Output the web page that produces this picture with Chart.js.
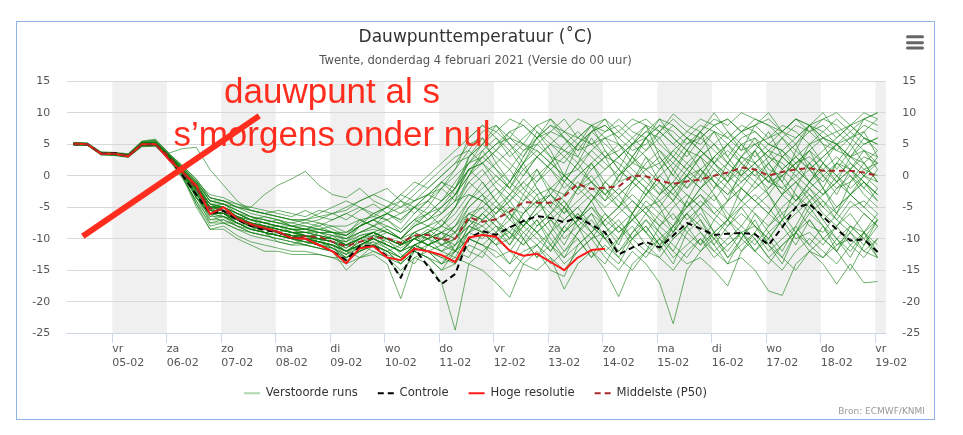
<!DOCTYPE html>
<html>
<head>
<meta charset="utf-8">
<script src="https://cdn.jsdelivr.net/npm/chart.js@4"></script>
<style>
  html, body { margin: 0; padding: 0; background: #fff; }
  #box { position: absolute; left: 16px; top: 21px; width: 917px; height: 397px; border: 1px solid #8fb4e3; }
  canvas { display: block; }
</style>
</head>
<body>
<div id="box"><canvas id="chart" width="917" height="397"></canvas></div>
<script>
const FONT = '"DejaVu Sans", Verdana, sans-serif';

// time axis in hours from 05-02 00:00, model steps every 6 hours from 04-02 07:00
const START_HOUR = -17;
const STEP_HOURS = 6;

const dayNames = ['vr', 'za', 'zo', 'ma', 'di', 'wo', 'do', 'vr', 'za', 'zo', 'ma', 'di', 'wo', 'do', 'vr'];
const dayDates = ['05-02', '06-02', '07-02', '08-02', '09-02', '10-02', '11-02', '12-02',
                  '13-02', '14-02', '15-02', '16-02', '17-02', '18-02', '19-02'];
const shadedDays = [0, 2, 4, 6, 8, 10, 12, 14];

const hogeResolutie = [5.1, 5.0, 3.5, 3.5, 3.1, 5.0, 5.0, 2.5, 0.6, -1.6,
  -6.1, -5.0, -6.8, -7.7, -8.3, -8.9, -9.9, -10.0, -11.0, -12.0,
  -13.9, -11.5, -11.2, -13.0, -13.4, -11.6, -12.0, -12.6, -13.7, -9.8,
  -9.4, -9.7, -11.9, -12.7, -12.4, -13.7, -15.0, -13.0, -11.8, -11.6];

const controle = [5.0, 5.0, 3.5, 3.6, 3.1, 5.0, 5.0, 2.8, 0.0, -3.0,
  -6.0, -5.6, -7.0, -8.0, -8.6, -9.0, -9.9, -10.0, -11.0, -12.0,
  -13.4, -11.2, -11.1, -12.8, -16.2, -11.5, -14.4, -17.2, -15.6, -9.9,
  -8.8, -9.4, -8.2, -7.2, -6.4, -6.7, -7.4, -6.6, -7.8, -9.0,
  -12.5, -11.4, -10.5, -11.4, -9.5, -7.5, -8.4, -9.4, -9.2, -9.1,
  -9.3, -11.0, -8.2, -5.0, -4.5, -6.5, -8.5, -10.3, -10.1, -12.1];

const middelste = [5.0, 5.0, 3.5, 3.5, 3.2, 5.0, 5.0, 3.0, 0.5, -2.0,
  -5.2, -5.5, -6.8, -7.8, -8.4, -8.9, -9.9, -9.6, -9.7, -10.5,
  -11.2, -10.5, -9.8, -9.9, -10.7, -9.5, -9.4, -10.2, -10.0, -6.6,
  -7.3, -6.9, -5.7, -4.2, -4.3, -4.3, -3.3, -1.3, -2.1, -1.9,
  -1.7, 0.0, -0.1, -0.8, -1.3, -0.9, -0.6, 0.0, 0.5, 1.3,
  1.0, 0.0, 0.6, 1.0, 1.2, 0.8, 0.8, 0.8, 0.5, 0.0];

const verstoordeRuns = [
  [5.2,5.1,3.4,3.6,3.0,5.3,5.2,2.8,0.2,-2.5, -6,-6,-7.5,-8.5,-9,-9.5,-10,-10.5,-11,-11.5, -13,-12,-11,-12,-14,-11,-10,-8,-5,0, 3,5,6,4,5,7,6,4,5,6, 3,5,7,6,8,6,5,7,6,4, 5,6,8,7,5,6,7,8,6,5],
  [5.0,4.9,3.5,3.4,3.1,4.8,5.0,3.2,0.8,-3.5, -6,-6,-7,-8,-8.5,-9,-9.5,-10,-10.5,-11, -14,-11.5,-11,-13,-16,-12,-13,-15,-14,-10, -11,-12,-14,-12,-11,-13,-15,-12,-10,-9, -12,-10,-8,-11,-14,-9,-7,-10,-12,-9, -8,-11,-13,-9,-6,-8,-11,-10,-12,-13],
  [5.3,5.2,3.8,3.7,3.5,5.5,5.8,3.6,4.3,4.5, 1.0,-1.5,-4,-5.5,-6,-6.5,-7,-7,-7.5,-8, -8,-7,-6.5,-7,-9,-7,-6,-5,-3,1, 2,-1,-3,0,3,1,-2,0,2,4, 1,-1,2,4,1,-2,0,3,5,2, 0,2,4,1,-1,2,5,3,1,2],
  [5.0,5.0,3.6,3.5,3.2,5.2,5.3,3.3,1.2,-1.0, -4,-4.5,-5,-5,-3,-1.5,-0.5,0.7,-1.5,-3, -3.5,-2,-4,-5,-3,-1,-2,0,2,5, 6,4,7,8,6,7,9,6,5,7, 8,6,4,7,9,7,6,8,9,7, 8,6,7,9,8,6,5,7,9,8],
  [4.9,4.8,3.3,3.2,2.9,4.6,4.7,2.5,-0.5,-4, -8,-7.5,-8.5,-9,-9.5,-10,-10.5,-11,-11.5,-12, -15,-13,-12,-13,-15,-13,-14,-17,-24.5,-14, -12,-10,-9,-11,-8,-6,-9,-7,-5,-8, -10,-7,-5,-4,-7,-5,-3,-6,-4,-2, -4,-6,-3,-1,-3,-5,-2,0,-3,-5],
  [5.1,5.0,3.5,3.3,3.1,5.0,4.9,2.7,0.0,-4.5, -8.5,-8,-9.5,-10.5,-11,-11.5,-12,-12,-12.5,-13, -14,-13,-12.5,-14,-19.5,-13,-12,-14,-13,-9, -7,-5,-3,-1,-3,-2,0,1,-1,-3, 0,2,1,-1,-3,0,3,1,-1,2, 4,1,0,2,3,1,-1,1,3,2],
  [5.0,5.1,3.7,3.6,3.3,4.9,5.0,3.1,0.3,-2.2, -5.5,-6,-7,-8,-8.5,-9,-9.5,-9.5,-10,-10.5, -12,-11,-10,-11,-12,-10,-11,-12,-11,-7, -9,-11,-8,-10,-13,-11,-14,-12,-10,-13, -15,-12,-14,-17,-23.5,-15,-12,-10,-13,-11, -9,-12,-10,-8,-11,-13,-10,-8,-9,-11],
  [5.2,5.0,3.6,3.5,3.3,5.1,5.0,3.0,0.6,-2.0, -5,-5.5,-6.5,-7.5,-8,-8.5,-9,-9,-9.5,-10, -11,-10,-9.5,-10,-11,-10,-11,-12,-13,-14, -15,-17,-19.3,-14,-12,-15,-16,-11,-9,-12, -14,-10,-8,-11,-9,-6,-8,-10,-7,-5, -8,-10,-7,-5,-3,-6,-8,-5,-4,-6],
  [5.0,4.9,3.4,3.4,3.0,4.8,4.9,2.9,0.4,-3.5, -6,-6.5,-7.5,-8.5,-9,-9.5,-10,-10.5,-11,-11, -12.5,-11,-10,-11.5,-13,-11,-12,-14,-12,-10, -11,-13,-12,-14,-15,-13,-18,-14,-12,-15, -19.2,-14,-12,-13,-15,-12,-10,-13,-11,-9, -12,-14,-11,-9,-12,-10,-8,-11,-13,-10],
  [5.1,5.1,3.5,3.5,3.2,5.0,5.2,3.2,0.9,-1.6, -5,-5,-6.5,-7.5,-8,-8.5,-9,-9.5,-10,-10, -11,-10,-9,-10,-11,-9,-8,-9,-10,-6, -5,-7,-9,-6,-4,-7,-9,-6,-8,-10, -8,-11,-13,-10,-12,-14,-13,-15,-17.5,-12, -10,-13,-11,-9,-7,-10,-12,-9,-11,-8],
  [4.9,5.0,3.5,3.4,3.1,4.9,5.0,3.0,0.5,-2.0, -5.5,-5.5,-7,-8,-8.5,-9,-9.5,-10,-10,-10.5, -12,-10.5,-10,-11,-12,-10,-9,-8,-6,-3, -4,-6,-3,-5,-8,-6,-4,-7,-9,-6, -8,-10,-7,-9,-11,-13,-10,-12,-14,-13, -15,-18.3,-19,-14,-12,-13,-11,-9,-12,-10],
  [5.2,5.1,3.6,3.5,3.2,5.1,5.1,3.1,0.7,-1.8, -5,-5.5,-6.5,-7.5,-8,-8.5,-9,-9,-9.5,-10, -11,-10,-9,-10,-11,-9,-10,-11,-9,-5, -3,-5,-7,-4,-2,-5,-7,-5,-3,-6, -9,-7,-5,-8,-10,-8,-6,-9,-11,-9, -12,-10,-13,-15,-12,-14,-17.2,-14,-17,-16.8],
  [5.0,5.0,3.5,3.6,3.3,5.3,5.5,3.4,1.0,-1.2, -4,-4,-5,-6,-6.5,-7,-7.5,-8,-8.5,-9, -9.5,-8,-7,-8,-9,-7,-5,-2,1,6, 8,7,9,8,6,8,7,9,8,6, 7,9,8,7,9.8,8,7,9,8,10, 9,8,7,9,8,9,10,8,9,10],
  [5.1,5.0,3.6,3.5,3.2,5.0,5.0,3.0,0.4,-2.1, -5.5,-6,-7,-8,-8.5,-9,-9.5,-10,-10.5,-11, -12,-11,-10,-9,-10,-8,-6,-4,-2,3, 5,3,1,4,6,3,2,5,7,5, 3,5,6,4,2,5,7,5,3,6, 7,5,4,6,8,6,4,3,5,6],
  [5.0,4.9,3.4,3.3,3.0,4.7,4.8,2.6,-0.3,-4, -7,-6.5,-8,-9,-9.5,-10,-10.5,-11,-11.5,-12, -13,-12,-11,-12,-13,-11,-10,-9,-10,-8, -9,-7,-5,-6,-4,-3,-5,-2,-1,-3, -1,0,-2,-4,-2,0,1,-1,-3,-1, 1,-1,-2,0,2,0,-2,-1,1,0],
  [5.2,5.2,3.7,3.6,3.4,5.4,5.6,3.5,1.5,-0.5, -3.5,-4,-5,-5.5,-6,-6.5,-7,-7.5,-7,-6, -5,-4,-3,-4,-5,-3,-1,1,3,4, 2,4,6,5,3,5,4,2,4,6, 5,3,6,8,6,4,3,5,7,5, 3,5,4,2,4,6,5,3,2,4],
  [5.0,5.0,3.5,3.5,3.1,4.9,5.0,2.9,0.2,-2.4, -6,-6,-7.5,-8.5,-9,-9.5,-10,-10,-10.5,-11, -12,-11,-10,-11,-12,-10,-11,-10,-8,-6, -7,-9,-11,-8,-6,-9,-12,-9,-7,-10, -12,-9,-7,-10,-8,-6,-9,-11,-8,-6, -8,-10,-7,-5,-8,-9,-6,-8,-10,-7],
  [5.1,5.0,3.6,3.4,3.2,5.1,5.1,3.1,0.6,-1.9, -5,-5,-6.5,-7.5,-8,-8.5,-9,-9.5,-9.5,-10, -10.5,-9,-8,-9,-10,-8,-7,-6,-4,-1, 1,-2,-4,-1,1,-2,-3,0,2,-1, -3,-1,1,3,0,-2,1,3,1,-1, 1,3,2,0,-2,0,2,1,-1,-3],
  [4.9,4.9,3.4,3.3,3.0,4.8,4.9,2.8,0.3,-2.2, -6,-6,-7,-8,-8.5,-9,-9.5,-10,-10.5,-11, -12,-11,-12,-13,-14,-12,-13,-15,-12,-8, -6,-8,-10,-7,-9,-11,-8,-6,-9,-7, -5,-7,-9,-6,-4,-7,-5,-3,-6,-8, -5,-3,-6,-4,-2,-5,-7,-4,-6,-8],
  [5.1,5.1,3.5,3.5,3.3,5.2,5.3,3.3,1.0,-1.5, -4.5,-5,-6,-7,-7.5,-8,-8.5,-8.5,-9,-9, -10,-9,-8,-9,-10,-9,-8,-7,-5,-2, 0,2,4,1,-1,2,4,3,1,3, 5,3,1,2,4,2,0,3,5,3, 2,4,6,3,1,3,5,6,4,3],
  [5.0,5.0,3.5,3.4,3.1,4.9,4.9,2.8,0.2,-3.5, -6.5,-6.5,-7.5,-8.5,-9,-9.5,-10,-10.5,-11,-11.5, -12.5,-11.5,-10.5,-11.5,-13,-12,-11,-10,-11,-9, -10,-8,-9,-11,-9,-7,-10,-8,-6,-8, -6,-4,-6,-8,-5,-3,-5,-7,-4,-2, -4,-6,-3,-1,-4,-2,-5,-3,-1,-4],
  [5.2,5.0,3.6,3.6,3.3,5.2,5.4,3.4,1.4,-0.8, -4,-4.5,-5.5,-6.5,-7,-7.5,-7.5,-7,-6,-5, -4,-5,-6,-5,-3,-4,-2,0,2,3, 5,7,5,3,6,8,6,4,7,8, 6,4,5,7,5,3,6,4,2,5, 6,4,3,5,7,5,4,6,8,7],
  [5.0,5.0,3.4,3.5,3.1,5.0,5.0,3.0,0.5,-2.0, -5.5,-5.5,-7,-8,-8.5,-9,-9.5,-9.5,-10,-10.5, -11.5,-10,-9,-10,-11,-10,-9,-11,-10,-7, -5,-3,-1,-3,-5,-3,0,-2,-4,-1, 1,-1,-3,0,2,0,-2,0,2,0, -2,0,3,1,-1,-3,0,2,0,-1],
  [5.1,5.0,3.5,3.4,3.2,5.0,5.1,3.1,0.6,-1.8, -5,-5.5,-6.5,-7.5,-8,-8.5,-9,-9.5,-10,-10.5, -11,-10,-9,-8,-9,-7,-8,-6,-4,-3, -4,-6,-4,-2,-4,-6,-3,-1,-3,-5, -3,-1,-3,-5,-2,0,-2,-4,-1,1, -1,-3,0,2,-1,-3,-1,1,-2,-4],
  [5.0,5.1,3.7,3.6,3.4,5.3,5.4,3.3,1.1,-1.3, -4.5,-4.5,-5.5,-6.5,-7,-7.5,-8,-8,-8.5,-9, -9,-8,-7,-6,-7,-5,-3,-1,1,4, 7,8,6,9,7,5,7,6,8,7, 9,7,6,8,7,5,6,8,9,7, 9,8,6,8,7,9,8,6,7,9],
  [4.9,4.9,3.4,3.3,3.0,4.7,4.8,2.7,0.1,-4.5, -7.5,-7.5,-8.5,-9.5,-10,-10.5,-11,-11,-11.5,-12, -13.5,-12,-11,-12,-14,-12,-13,-14,-11,-9, -8,-10,-12,-9,-7,-10,-13,-11,-9,-12, -10,-8,-11,-13,-10,-8,-11,-9,-7,-10, -12,-9,-7,-10,-9,-11,-8,-6,-9,-12],
  [5.1,5.0,3.6,3.5,3.2,5.1,5.2,3.2,0.8,-1.6, -5,-5,-6,-7,-7.5,-8,-8.5,-9,-9,-9.5, -10,-8,-6,-5,-6,-4,-3,-4,-2,1, 3,1,-1,2,4,2,0,-2,1,3, 2,0,-2,1,3,1,-1,2,4,2, 0,-2,1,3,1,-1,2,0,-2,1],
  [5.0,5.0,3.5,3.4,3.1,4.9,5.0,2.9,0.4,-3, -5.5,-6,-7,-8,-8.5,-9,-9.5,-10,-10.5,-11, -12,-11,-10,-11,-12,-11,-12,-13,-14,-11, -12,-14,-16,-13,-11,-14,-12,-10,-13,-11, -13,-15,-12,-10,-13,-11,-9,-12,-10,-8, -10,-13,-15,-12,-10,-12,-14,-11,-9,-13],
  [5.2,5.1,3.7,3.6,3.3,5.2,5.2,3.2,0.7,-1.7, -5,-5,-6.5,-7,-7.5,-8,-8.5,-8.5,-9,-9.5, -10,-9,-8.5,-9,-10,-8,-7,-5,-3,0, 2,0,-2,1,3,5,3,1,4,2, 0,2,4,6,3,1,3,5,2,0, 2,4,1,-1,1,3,5,2,0,-2],
  [5.0,4.9,3.5,3.4,3.0,4.8,4.9,2.8,0.2,-3.5, -6,-6.5,-7.5,-8.5,-9,-9.5,-10,-10.5,-10.5,-11, -12,-10.5,-9.5,-10.5,-11.5,-10,-9,-8,-9,-7, -8,-6,-4,-7,-9,-7,-5,-8,-10,-7, -5,-3,-5,-7,-9,-6,-4,-6,-8,-5, -3,-5,-8,-6,-4,-7,-5,-3,-5,-7],
  [5.1,5.0,3.5,3.5,3.2,5.0,5.1,3.0,0.5,-2.0, -5.5,-5.5,-7,-8,-8.5,-9,-9.5,-9.5,-10,-10.5, -11,-10,-9,-10,-11,-9,-10,-9,-7,-4, -2,0,-2,-4,-1,1,-1,-3,-1,1, 3,1,-1,-3,-1,2,4,2,0,3, 1,-1,0,2,4,2,0,-2,0,2],
  [5.0,5.0,3.6,3.5,3.2,5.1,5.2,3.2,0.9,-1.4, -4.5,-5,-6,-7,-7.5,-8,-8,-8.5,-8.5,-9, -9.5,-8,-7,-6,-5,-4,-3,-2,0,2, 4,6,3,5,4,2,5,7,5,3, 4,6,8,5,3,6,4,2,5,7, 5,3,6,4,2,4,6,8,6,5],
  [4.9,4.9,3.3,3.3,3.0,4.7,4.7,2.6,-0.2,-5, -8.5,-8.5,-10,-11,-12,-12,-12.5,-12.5,-12.5,-13, -13,-12,-11,-12,-13,-11,-12,-13,-12,-10, -11,-9,-7,-9,-11,-9,-7,-5,-8,-10, -8,-6,-9,-11,-8,-10,-12,-9,-7,-9, -11,-8,-6,-9,-11,-8,-10,-12,-9,-7],
  [5.1,5.0,3.5,3.5,3.2,5.1,5.3,3.3,1.2,-1.0, -4,-4.5,-5.5,-6.5,-7,-7.5,-8,-8.5,-8,-7, -6,-7,-8,-7,-6,-5,-6,-4,-1,2, 3,5,7,5,8,6,4,6,8,9, 7,5,7,9,8,6,8,7,5,7, 8,9,7,6,8,7,9,7,5,6],
  [5.0,5.0,3.5,3.4,3.1,4.9,5.0,3.0,0.4,-2.1, -5.5,-6,-7,-8,-8.5,-9,-9.5,-10,-10,-10.5, -11.5,-10,-9,-10,-11,-10,-11,-10,-9,-6, -7,-5,-6,-8,-6,-4,-6,-4,-2,-4, -2,-4,-6,-3,-1,-3,-5,-2,0,-2, -4,-2,0,-3,-5,-3,-1,-3,-5,-2],
  [5.2,5.1,3.6,3.6,3.3,5.2,5.3,3.2,0.8,-1.5, -4.5,-5,-6,-7,-7.5,-8,-8.5,-8.5,-9,-9, -9.5,-8,-7,-6,-4,-5,-3,-1,-2,1, 2,4,2,0,3,1,3,5,3,1, 3,5,3,1,4,6,4,2,0,3, 5,3,1,3,5,7,5,3,4,2],
  [5.0,5.0,3.5,3.5,3.2,5.0,5.0,3.0,0.6,-2.0, -5.5,-5.5,-7,-7.5,-8,-8.5,-9,-9.5,-10,-10, -11,-10,-9,-10,-11,-10,-9,-11,-12,-8, -6,-4,-6,-8,-5,-3,-5,-7,-4,-2, -4,-6,-3,-1,-3,-5,-2,0,-2,-4, -2,0,-3,-5,-2,-4,-6,-3,-1,-3],
  [5.1,5.0,3.6,3.5,3.2,5.0,5.1,3.1,0.7,-1.7, -5,-5,-6.5,-7.5,-8,-8.5,-9,-9,-9.5,-10, -10.5,-9.5,-9,-10,-10.5,-9.5,-10,-9,-8,-5, -3,-1,1,-2,0,2,0,-2,0,-3, -5,-2,0,-2,-4,-1,1,-1,-3,0, 2,0,-2,-4,-1,1,3,1,-1,-3],
  [5.1,5.1,3.6,3.6,3.4,5.4,5.7,3.5,1.6,-0.6, -3.5,-4,-4.5,-5.5,-6,-6.5,-7,-7,-6.5,-6, -5.5,-4,-3,-2,-4,-2,0,2,4,6, 8,6,4,6,8,9,7,5,7,8, 6,8,9,7,5,7,9,8,6,8, 7,5,7,9,7,8,6,8,10,9],
  [5.0,5.0,3.5,3.5,3.1,4.9,5.0,3.0,0.3,-3, -6,-6,-7.5,-8.5,-9,-9.5,-10,-10,-10.5,-11, -12,-11,-10,-11,-12,-11,-12,-11,-10,-8, -9,-11,-10,-8,-10,-12,-9,-7,-5,-7, -9,-7,-4,-6,-8,-5,-3,-5,-7,-4, -6,-8,-5,-3,-6,-4,-7,-9,-6,-8],
  [5.1,5.0,3.5,3.5,3.2,5.1,5.2,3.1,0.9,-1.2, -3.5,-4,-5,-5.5,-6,-5.5,-6,-6.5,-5.5,-6, -7,-5.5,-4.5,-6,-7,-5,-4,-6,-3,0, 4,1,-2,2,5,3,-1,2,6,3, -1,3,6,2,-2,1,4,7,3,0, 4,7,3,1,5,2,-1,3,6,4],
  [5.0,5.0,3.5,3.4,3.1,4.9,5.1,3.0,0.6,-2.6, -6.5,-5,-6,-7,-6.5,-7,-8,-7.5,-8,-9, -10.5,-8,-7,-8.5,-10,-7.5,-6,-8,-5,-1, -3,-7,-10,-6,-3,-8,-11,-7,-4,-8, -11,-6,-2,-5,-9,-4,0,-3,-7,-2, 1,-3,-7,-2,2,-2,-6,-1,2,-1],
  [5.2,5.1,3.6,3.5,3.3,5.1,5.1,3.0,0.4,-2.8, -7,-7,-8,-8.5,-8,-9,-8.5,-9.5,-10.5,-9.5, -11,-12,-9.5,-8.5,-10,-12,-9,-7,-9,-12, -13,-9,-6,-10,-13,-9,-5,-8,-12,-14, -10,-6,-9,-12,-8,-4,-7,-11,-14,-10, -7,-11,-14,-9,-5,-8,-12,-15,-11,-7],
  [5.0,4.9,3.4,3.4,3.0,4.8,4.9,2.9,0.6,-1.8, -4.5,-5.5,-6.5,-7,-8,-8,-8.5,-9,-8.5,-8, -9,-7.5,-6,-7,-8.5,-6,-4,-2,-4,3, 6,2,-1,3,7,4,0,5,8,4, 1,5,8,3,0,4,7,2,-1,3, 6,2,-1,4,8,5,1,4,7,3],
  [5.1,5.1,3.6,3.6,3.3,5.2,5.1,3.0,0.2,-3.2, -7.5,-7,-8,-9,-9.5,-9,-10,-11,-10,-10.5, -12,-13,-11,-10,-12.5,-14,-11,-9,-12,-13, -9,-11,-14,-10,-7,-11,-13,-9,-6,-10, -13,-9,-6,-9,-12,-8,-5,-9,-13,-10, -6,-9,-12,-8,-4,-7,-10,-13,-9,-6],
  [5.0,5.0,3.5,3.5,3.2,5.0,5.2,3.3,1.3,-0.9, -3,-3.5,-4.5,-5,-5.5,-6,-6.5,-5.5,-6.5,-7, -6,-5,-6.5,-5,-4,-6,-4,-1,-3,1, -1,-4,-1,2,-2,-5,-1,2,-1,-4, 0,3,0,-3,1,4,1,-2,2,5, 2,-1,3,5,1,-2,2,5,2,-1],
  [5.2,5.0,3.5,3.5,3.2,5.1,5.0,2.9,0.3,-2.3, -5,-6.5,-7,-7.5,-9,-9.5,-9,-9.5,-10,-11.5, -12.5,-10,-11,-12,-11,-9.5,-11,-10,-8,-4, -1,-4,-7,-3,1,-3,-6,-2,2,-2, -5,-1,3,-1,-4,0,3,-1,-4,1, 4,0,-3,1,4,0,-3,1,4,1],
  [4.9,4.9,3.4,3.3,3.0,4.8,4.9,2.8,0.1,-2.9, -6,-7.5,-7.5,-8,-9,-10.5,-11,-10,-10.5,-11.5, -13,-11,-10.5,-12.5,-13.5,-11,-10,-12,-10,-7, -4,-2,-5,-8,-5,-2,-4,-7,-4,-1, -3,-6,-3,0,-2,-5,-2,1,-1,-4, -1,2,-1,-4,-1,2,0,-3,0,3],
  [5.1,5.0,3.6,3.5,3.2,5.0,5.1,3.2,1.0,-1.4, -5,-4.5,-6,-6.5,-7.5,-7,-8,-8.5,-7.5,-8.5, -9.5,-7,-8,-6,-7.5,-5,-7,-5,-2,2, 5,8,5,2,6,9,6,3,7,9, 5,2,6,9,6,4,7,10,7,4, 8,10,7,5,8,10,7,5,9,10],
  [5.0,5.0,3.5,3.4,3.1,4.9,5.0,3.0,0.5,-2.2, -5.5,-6,-6.5,-8,-8.5,-8,-9,-10,-9,-10, -11,-9.5,-9,-11,-12,-10,-8.5,-10,-12,-9, -6,-8,-11,-7,-9,-12,-8,-10,-13,-9, -7,-10,-12,-8,-6,-9,-11,-7,-9,-12, -9,-6,-8,-11,-7,-10,-12,-8,-10,-13]
];

// hand-drawn annotation on the picture (hours / degrees)
const noteLineX = [-13, 64.7];
const noteLineY = [-9.6, 9.5];
const noteText = ['dauwpunt al s', 's\u2019morgens onder nul'];

const toPoints = vals => vals.map((v, i) => ({ x: START_HOUR + i * STEP_HOURS, y: v }));
const dayTicks = dayNames.map((d, i) => i * 24);

const GREEN = 'rgba(15,125,15,0.6)';

const datasets = [
  { label: 'note', data: noteLineX.map((x, i) => ({ x, y: noteLineY[i] })),
    borderColor: '#ff2d1e', borderWidth: 6, order: 0 },
  { label: 'Middelste (P50)', data: toPoints(middelste), borderColor: '#a82a2a', borderWidth: 2, borderDash: [6, 4], order: 1 },
  { label: 'Hoge resolutie', data: toPoints(hogeResolutie), borderColor: '#ff1a1a', borderWidth: 2, order: 2 },
  { label: 'Controle', data: toPoints(controle), borderColor: '#000', borderWidth: 2, borderDash: [6, 4], order: 3 }
];
verstoordeRuns.forEach(run => {
  datasets.push({ label: 'Verstoorde runs', data: toPoints(run), borderColor: GREEN, borderWidth: 1, order: 4 });
});
datasets.forEach(d => { d.yAxisID = 'y'; d.pointRadius = 0; d.fill = false; });

const legendItems = [
  { text: 'Verstoorde runs', strokeStyle: 'rgba(20,140,20,0.35)', lineDash: [] },
  { text: 'Controle', strokeStyle: '#000', lineDash: [6, 4] },
  { text: 'Hoge resolutie', strokeStyle: '#ff1a1a', lineDash: [] },
  { text: 'Middelste (P50)', strokeStyle: '#a82a2a', lineDash: [6, 4] }
];

const bandsPlugin = {
  id: 'bands',
  beforeDraw(chart) {
    const { ctx, chartArea: a, scales: { x } } = chart;
    ctx.save();
    ctx.beginPath();
    ctx.rect(a.left, a.top, a.right - a.left, a.bottom - a.top);
    ctx.clip();
    ctx.fillStyle = '#f0f0f0';
    shadedDays.forEach(d => {
      const x0 = x.getPixelForValue(d * 24);
      const x1 = x.getPixelForValue(d * 24 + 24);
      ctx.fillRect(x0, a.top, x1 - x0, a.bottom - a.top);
    });
    ctx.restore();
  }
};

const extrasPlugin = {
  id: 'extras',
  afterDraw(chart) {
    const ctx = chart.ctx;
    ctx.save();
    // menu icon
    ctx.strokeStyle = '#666';
    ctx.lineWidth = 3;
    ctx.lineCap = 'round';
    [14.7, 20.7, 26].forEach(y => {
      ctx.beginPath();
      ctx.moveTo(890.5, y);
      ctx.lineTo(905.5, y);
      ctx.stroke();
    });
    // credits
    ctx.fillStyle = '#999';
    ctx.font = '9px ' + FONT;
    ctx.textAlign = 'right';
    ctx.textBaseline = 'middle';
    ctx.fillText('Bron: ECMWF/KNMI', 908, 390);
    // annotation text
    ctx.fillStyle = '#ff2d1e';
    ctx.font = '35px "Liberation Sans", Arial, sans-serif';
    ctx.textAlign = 'center';
    ctx.textBaseline = 'alphabetic';
    ctx.fillText(noteText[0], 315, 80.7);
    ctx.fillText(noteText[1], 315, 124);
    ctx.restore();
  }
};

const tickFont = { family: FONT, size: 11, lineHeight: 1.21 };

new Chart(document.getElementById('chart'), {
  type: 'line',
  data: { datasets },
  options: {
    responsive: false,
    animation: false,
    events: [],
    layout: { padding: { bottom: 10 } },
    elements: { line: { borderJoinStyle: 'round', tension: 0 }, point: { radius: 0 } },
    plugins: {
      title: {
        display: true, text: 'Dauwpunttemperatuur (\u02DAC)', color: '#333',
        font: { family: FONT, size: 17, weight: 'normal', lineHeight: 1.2 },
        padding: { top: 5.8, bottom: 2 }
      },
      subtitle: {
        display: true, text: 'Twente, donderdag 4 februari 2021 (Versie do 00 uur)', color: '#555',
        font: { family: FONT, size: 11.6, lineHeight: 1.2 },
        padding: { top: 3.8, bottom: 13.3 }
      },
      legend: {
        position: 'bottom',
        labels: {
          color: '#333',
          font: { family: FONT, size: 11.6 },
          padding: 20,
          usePointStyle: true,
          pointStyleWidth: 16,
          generateLabels: () => legendItems.map(it => ({
            text: it.text, strokeStyle: it.strokeStyle, fillStyle: it.strokeStyle,
            lineWidth: 2, lineDash: it.lineDash, pointStyle: 'line', fontColor: '#333'
          }))
        }
      },
      tooltip: { enabled: false }
    },
    scales: {
      x: {
        type: 'linear', min: -20.08, max: 340.57,
        afterBuildTicks: s => { s.ticks = dayTicks.map(v => ({ value: v })); },
        afterFit: s => { s.height = 34.2; },
        grid: { drawOnChartArea: false, drawTicks: true, tickLength: 9.5, color: '#ccd6eb' },
        border: { color: '#ccd6eb' },
        ticks: {
          align: 'start', padding: 0, maxRotation: 0, autoSkip: false, color: '#555', font: tickFont,
          callback: v => { const d = Math.round(v / 24); return [dayNames[d], dayDates[d]]; }
        }
      },
      y: {
        position: 'left', min: -25, max: 15,
        afterFit: s => { s.width = 49.7; },
        grid: { color: '#d8d8d8', drawTicks: false },
        border: { display: false },
        ticks: { stepSize: 5, padding: 16.5, color: '#555', font: tickFont }
      },
      y2: {
        position: 'right', min: -25, max: 15,
        afterFit: s => { s.width = 48.3; },
        grid: { drawOnChartArea: false, drawTicks: false },
        border: { display: false },
        ticks: { stepSize: 5, padding: 16.5, color: '#555', font: tickFont }
      }
    }
  },
  plugins: [bandsPlugin, extrasPlugin]
});
</script>
</body>
</html>
